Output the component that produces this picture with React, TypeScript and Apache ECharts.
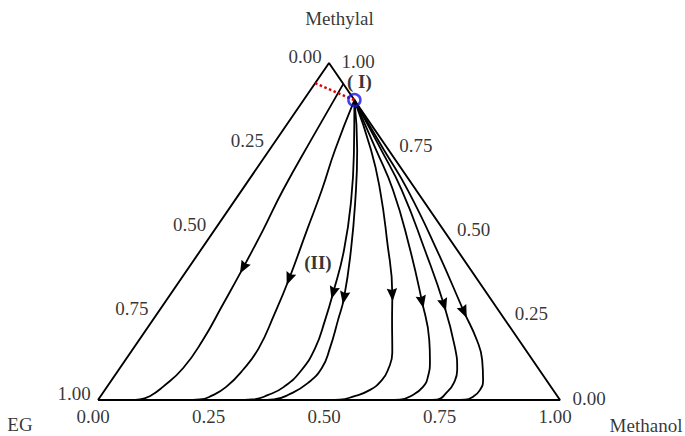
import React, { useEffect, useRef } from "react";
import * as echarts from "echarts";

// Ternary compositions: [x_Methanol, x_Methylal]; x_EG = 1 - both
const pointI: [number, number] = [0.11, 0.89];
const boundaryStart: [number, number] = [0.0, 0.94];

const curveA: [number, number][] = [[0.062,0.938],[0.075,0.777],[0.089,0.623],[0.105,0.505],[0.118,0.392],[0.129,0.279],[0.138,0.178],[0.137,0.095],[0.121,0.039],[0.107,0.012],[0.090,0.0015],[0.07,0]];
const curveB: [number, number][] = [[0.11,0.89],[0.142,0.742],[0.173,0.623],[0.200,0.505],[0.234,0.359],[0.255,0.252],[0.271,0.154],[0.269,0.089],[0.258,0.039],[0.240,0.013],[0.220,0.0015],[0.19,0]];
const curveC: [number, number][] = [[0.11,0.89],[0.183,0.742],[0.251,0.594],[0.310,0.445],[0.350,0.318],[0.373,0.237],[0.393,0.154],[0.396,0.086],[0.383,0.039],[0.361,0.015],[0.333,0.0015],[0.30,0]];
const curveD: [number, number][] = [[0.11,0.89],[0.190,0.742],[0.260,0.594],[0.325,0.445],[0.381,0.303],[0.401,0.237],[0.425,0.154],[0.437,0.095],[0.429,0.050],[0.407,0.018],[0.380,0.0018],[0.35,0]];
const curveE: [number, number][] = [[0.11,0.89],[0.220,0.742],[0.299,0.623],[0.388,0.475],[0.481,0.312],[0.518,0.237],[0.567,0.140],[0.583,0.089],[0.585,0.059],[0.574,0.030],[0.547,0.010],[0.523,0.001],[0.50,0]];
const curveF: [number, number][] = [[0.11,0.89],[0.231,0.742],[0.327,0.623],[0.443,0.460],[0.556,0.291],[0.628,0.178],[0.659,0.119],[0.680,0.068],[0.684,0.039],[0.674,0.015],[0.653,0.001],[0.63,0]];
const curveG: [number, number][] = [[0.11,0.89],[0.242,0.742],[0.346,0.623],[0.485,0.445],[0.608,0.282],[0.694,0.157],[0.733,0.089],[0.745,0.050],[0.744,0.024],[0.733,0.001],[0.71,0]];
const curveH: [number, number][] = [[0.11,0.89],[0.248,0.742],[0.359,0.623],[0.511,0.445],[0.662,0.261],[0.731,0.178],[0.772,0.119],[0.804,0.059],[0.812,0.030],[0.807,0.010],[0.794,0.001],[0.77,0]];

const curves = [curveA, curveB, curveC, curveD, curveE, curveF, curveG, curveH];
const arrowIndex = [4, 4, 4, 4, 4, 4, 4, 4];

const tickValues = [0, 0.25, 0.5, 0.75, 1];
const tickLabels = ["0.00", "0.25", "0.50", "0.75", "1.00"];
const vertexNames = ["EG", "Methanol", "Methylal"];
const pointLabels = ["( I)", "(II)"];
const labelIIPos: [number, number] = [0.272, 0.408];

const toCart = (p: [number, number]) => [p[0] + p[1] / 2, p[1]];

const FONT = "'Liberation Serif', 'Times New Roman', serif";

export default function App() {
  const ref = useRef<HTMLDivElement>(null);
  useEffect(() => {
    if (!ref.current) return;
    const chart = echarts.init(ref.current, undefined, { renderer: "svg" });

    const textStyle = { fontFamily: FONT, fontSize: 19, lineHeight: 19, color: "#000" };
    const labelScatter = (data: any[], offset: [number, number], extra: any = {}) => ({
      type: "scatter",
      symbolSize: 1,
      itemStyle: { color: "rgba(0,0,0,0)" },
      silent: true,
      z: 5,
      label: {
        show: true,
        position: "inside",
        offset,
        formatter: (p: any) => p.data.name,
        ...textStyle,
        ...extra,
      },
      data,
    });

    const curveSeries = curves.map((c) => ({
      type: "line",
      data: c.map(toCart),
      smooth: 0.5,
      symbol: "none",
      lineStyle: { color: "#000", width: 1.8 },
      silent: true,
      z: 2,
    }));

    const arrowData = curves.map((c, i) => {
      const k = arrowIndex[i];
      const p = toCart(c[k]);
      const a = toCart(c[k - 1]);
      const b = toCart(c[k + 1]);
      return [p[0], p[1], a[0], a[1], b[0], b[1]];
    });

    const option: any = {
      animation: false,
      backgroundColor: "#fff",
      grid: { left: 98, top: 63, width: 462, height: 337 },
      xAxis: { type: "value", min: 0, max: 1, show: false },
      yAxis: { type: "value", min: 0, max: 1, show: false },
      series: [
        {
          type: "line",
          data: ([[0, 0], [1, 0], [0, 1], [0, 0]] as [number, number][]).map(toCart),
          symbol: "none",
          lineStyle: { color: "#000", width: 1.9 },
          silent: true,
          z: 3,
        },
        ...curveSeries,
        {
          type: "custom",
          coordinateSystem: "cartesian2d",
          silent: true,
          z: 4,
          renderItem: (params: any, api: any) => {
            const p = api.coord([api.value(0), api.value(1)]);
            const a = api.coord([api.value(2), api.value(3)]);
            const b = api.coord([api.value(4), api.value(5)]);
            let dx = b[0] - a[0];
            let dy = b[1] - a[1];
            const len = Math.hypot(dx, dy) || 1;
            dx /= len;
            dy /= len;
            const px = -dy, py = dx;
            const L = 6.5, W = 5.2;
            return {
              type: "polygon",
              shape: {
                points: [
                  [p[0] + dx * L, p[1] + dy * L],
                  [p[0] - dx * L + px * W, p[1] - dy * L + py * W],
                  [p[0] - dx * L * 0.75, p[1] - dy * L * 0.75],
                  [p[0] - dx * L - px * W, p[1] - dy * L - py * W],
                ],
              },
              style: { fill: "#000" },
            };
          },
          data: arrowData,
        },
        {
          type: "line",
          data: [toCart(boundaryStart), toCart(pointI)],
          symbol: "none",
          lineStyle: { color: "#e00000", width: 2.5, type: [2.5, 2.5] },
          silent: true,
          z: 6,
        },
        {
          type: "scatter",
          data: [toCart(pointI)],
          symbol: "circle",
          symbolSize: 12,
          itemStyle: { color: "rgba(0,0,0,0)", borderColor: "#1414e6", borderWidth: 2.5 },
          silent: true,
          z: 7,
        },
        // bottom axis: Methanol
        labelScatter(
          tickValues.map((v, i) => ({ value: toCart([v, 0]), name: tickLabels[i] })),
          [-5, 16.5]
        ),
        // left axis: EG
        labelScatter(
          tickValues.map((v, i) => ({ value: toCart([0, 1 - v]), name: tickLabels[i] })),
          [-24, -7]
        ),
        // right axis: Methylal
        labelScatter(
          tickValues.map((v, i) => ({ value: toCart([1 - v, v]), name: tickLabels[i] })),
          [29, -2]
        ),
        labelScatter([{ value: toCart([0, 0]), name: vertexNames[0] }], [-78, 24]),
        labelScatter([{ value: toCart([1, 0]), name: vertexNames[1] }], [86, 25]),
        labelScatter([{ value: toCart([0, 1]), name: vertexNames[2] }], [10.5, -45]),
        labelScatter([{ value: toCart(pointI), name: pointLabels[0] }], [5, -19], { fontWeight: "bold" }),
        labelScatter([{ value: toCart(labelIIPos), name: pointLabels[1] }], [0, 0], { fontWeight: "bold" }),
      ],
    };
    chart.setOption(option);
    return () => chart.dispose();
  }, []);
  return (
    <div
      ref={ref}
      style={{ position: "fixed", left: 0, top: 0, width: 685, height: 436, background: "#fff" }}
    />
  );
}
